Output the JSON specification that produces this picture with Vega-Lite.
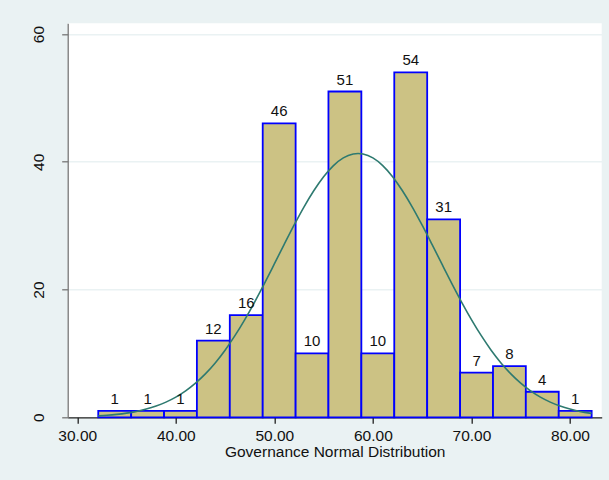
{
  "$schema": "https://vega.github.io/schema/vega-lite/v6.json",
  "width": 534,
  "height": 394,
  "autosize": {"type": "none"},
  "padding": {"left": 67.7, "top": 23.3, "right": 7.3, "bottom": 62.7},
  "background": "#EAF2F3",
  "config": {
    "view": {"fill": "white", "stroke": null},
    "font": "Liberation Sans",
    "axis": {"labelFont": "Liberation Sans", "titleFont": "Liberation Sans", "labelColor": "#111111", "titleColor": "#111111", "titleFontWeight": "normal"}
  },
  "datasets": {
    "bins": [
      {"lo": 32.13, "hi": 35.47, "mid": 33.80, "count": 1},
      {"lo": 35.47, "hi": 38.81, "mid": 37.14, "count": 1},
      {"lo": 38.81, "hi": 42.14, "mid": 40.48, "count": 1},
      {"lo": 42.14, "hi": 45.48, "mid": 43.81, "count": 12},
      {"lo": 45.48, "hi": 48.82, "mid": 47.15, "count": 16},
      {"lo": 48.82, "hi": 52.16, "mid": 50.49, "count": 46},
      {"lo": 52.16, "hi": 55.49, "mid": 53.83, "count": 10},
      {"lo": 55.49, "hi": 58.83, "mid": 57.16, "count": 51},
      {"lo": 58.83, "hi": 62.17, "mid": 60.50, "count": 10},
      {"lo": 62.17, "hi": 65.51, "mid": 63.84, "count": 54},
      {"lo": 65.51, "hi": 68.85, "mid": 67.18, "count": 31},
      {"lo": 68.85, "hi": 72.19, "mid": 70.52, "count": 7},
      {"lo": 72.19, "hi": 75.52, "mid": 73.86, "count": 8},
      {"lo": 75.52, "hi": 78.86, "mid": 77.19, "count": 4},
      {"lo": 78.86, "hi": 82.20, "mid": 80.53, "count": 1}
    ],
    "normal": [
      {"g": 32.13, "f": 0.223}, {"g": 33, "f": 0.313}, {"g": 34, "f": 0.456},
      {"g": 35, "f": 0.653}, {"g": 36, "f": 0.922}, {"g": 37, "f": 1.284},
      {"g": 38, "f": 1.759}, {"g": 39, "f": 2.376}, {"g": 40, "f": 3.161},
      {"g": 41, "f": 4.141}, {"g": 42, "f": 5.348}, {"g": 43, "f": 6.799},
      {"g": 44, "f": 8.515}, {"g": 45, "f": 10.509}, {"g": 46, "f": 12.776},
      {"g": 47, "f": 15.30}, {"g": 48, "f": 18.047}, {"g": 49, "f": 20.97},
      {"g": 50, "f": 24.006}, {"g": 51, "f": 27.07}, {"g": 52, "f": 30.07},
      {"g": 53, "f": 32.91}, {"g": 54, "f": 35.47}, {"g": 55, "f": 37.67},
      {"g": 56, "f": 39.41}, {"g": 57, "f": 40.61}, {"g": 58, "f": 41.22},
      {"g": 58.5, "f": 41.3}, {"g": 59, "f": 41.22}, {"g": 60, "f": 40.61},
      {"g": 61, "f": 39.41}, {"g": 62, "f": 37.67}, {"g": 63, "f": 35.47},
      {"g": 64, "f": 32.91}, {"g": 65, "f": 30.07}, {"g": 66, "f": 27.07},
      {"g": 67, "f": 24.006}, {"g": 68, "f": 20.97}, {"g": 69, "f": 18.047},
      {"g": 70, "f": 15.30}, {"g": 71, "f": 12.776}, {"g": 72, "f": 10.509},
      {"g": 73, "f": 8.515}, {"g": 74, "f": 6.799}, {"g": 75, "f": 5.348},
      {"g": 76, "f": 4.141}, {"g": 77, "f": 3.161}, {"g": 78, "f": 2.376},
      {"g": 79, "f": 1.759}, {"g": 80, "f": 1.284}, {"g": 81, "f": 0.922},
      {"g": 82, "f": 0.653}, {"g": 82.2, "f": 0.608}
    ]
  },
  "layer": [
    {
      "data": {"name": "bins"},
      "mark": {"type": "rect", "fill": "#CCC284", "stroke": "#0000FF", "strokeWidth": 1.8},
      "encoding": {
        "x": {
          "field": "lo", "type": "quantitative",
          "scale": {"domain": [29.03, 83.22], "nice": false, "zero": false},
          "axis": {
            "title": "Governance Normal Distribution",
            "values": [30, 40, 50, 60, 70, 80],
            "format": ".2f",
            "grid": false,
            "domainColor": "#222222",
            "domainWidth": 1.3,
            "tickColor": "#222222",
            "tickWidth": 1.3,
            "tickSize": 6,
            "labelFontSize": 15.5,
            "labelPadding": 5,
            "titleFontSize": 15.5,
            "titlePadding": 1
          }
        },
        "x2": {"field": "hi"},
        "y": {
          "field": "count", "type": "quantitative",
          "scale": {"domain": [0, 61.68], "nice": false},
          "axis": {
            "title": null,
            "values": [0, 20, 40, 60],
            "grid": true,
            "gridColor": "#EAF2F3",
            "gridWidth": 1.5,
            "domainColor": "#777777",
            "domainWidth": 1.3,
            "tickColor": "#777777",
            "tickWidth": 1.3,
            "tickSize": 6,
            "labelFontSize": 15.5,
            "labelAngle": -90,
            "labelAlign": "center",
            "labelBaseline": "alphabetic",
            "labelPadding": 18
          }
        },
        "y2": {"datum": 0}
      }
    },
    {
      "data": {"name": "normal"},
      "mark": {"type": "line", "color": "#2E7A70", "strokeWidth": 1.6, "interpolate": "monotone"},
      "encoding": {
        "x": {"field": "g", "type": "quantitative"},
        "y": {"field": "f", "type": "quantitative"}
      }
    },
    {
      "data": {"name": "bins"},
      "mark": {"type": "text", "fontSize": 15, "color": "#111111", "baseline": "alphabetic", "dy": -7},
      "encoding": {
        "x": {"field": "mid", "type": "quantitative"},
        "y": {"field": "count", "type": "quantitative"},
        "text": {"field": "count", "type": "quantitative"}
      }
    }
  ]
}
